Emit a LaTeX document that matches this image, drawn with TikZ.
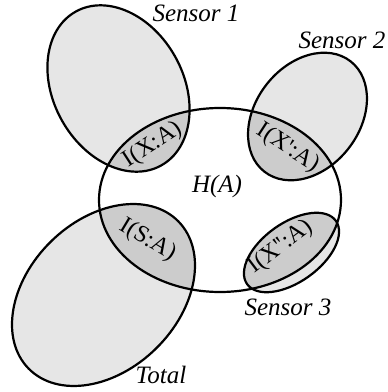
\documentclass[tikz,border=0pt]{standalone}
\usepackage{fontspec}
\setmainfont{Liberation Serif}
\definecolor{setfill}{HTML}{E6E6E6}
\definecolor{overlapfill}{HTML}{CCCCCC}
% The five sets: entropy H(A), three sensors and the total
\newcommand\hset[1]{\path[#1] (220,192) ellipse [x radius=121pt, y radius=92pt];}
\newcommand\sensorone[1]{\path[#1, rotate around={-61:(118.5,303.5)}] (118.5,303.5) ellipse [x radius=88pt, y radius=65pt];}
\newcommand\sensortwo[1]{\path[#1, rotate around={52:(307.5,275.5)}] (307.5,275.5) ellipse [x radius=70pt, y radius=52pt];}
\newcommand\sensorthree[1]{\path[#1, rotate around={35.5:(291.5,139.5)}] (291.5,139.5) ellipse [x radius=54.5pt, y radius=29.5pt];}
\newcommand\totalset[1]{\path[#1, rotate around={44.5:(103.5,97)}] (103.5,97) ellipse [x radius=105pt, y radius=75pt];}
\begin{document}
\begin{tikzpicture}[x=1pt,y=1pt,
  outline/.style={draw=black, line width=2.2pt},
  setlabel/.style={font=\fontsize{25}{28}\selectfont\itshape, inner sep=0pt, anchor=base},
  infolabel/.style={font=\fontsize{24}{28}\selectfont, inner sep=0pt}]
\useasboundingbox (0,0) rectangle (388,392);
% light fill of the sets
\sensorone{fill=setfill}
\sensortwo{fill=setfill}
\sensorthree{fill=setfill}
\totalset{fill=setfill}
\hset{fill=white}
% darker fill of the overlaps with H(A)
\begin{scope}
  \hset{clip}
  \sensorone{fill=overlapfill}
  \sensortwo{fill=overlapfill}
  \sensorthree{fill=overlapfill}
  \totalset{fill=overlapfill}
\end{scope}
% outlines
\sensorone{outline}
\sensortwo{outline}
\sensorthree{outline}
\totalset{outline}
\hset{outline}
% labels
\node[setlabel] (s1) at (196,370) {Sensor 1};
\node[setlabel] (s2) at (342,343) {Sensor 2};
\node[setlabel] (s3) at (288,77) {Sensor 3};
\node[setlabel] (tot) at (161,9) {Total};
\node[setlabel] (h) at (217,199) {H(A)};
\node[infolabel, rotate=33] (ix) at (153,247) {I(X:A)};
\node[infolabel, rotate=-33] (ix1) at (288,244) {I(X\textquotesingle:A)};
\node[infolabel, rotate=-31] (is) at (148,152) {I(S:A)};
\node[infolabel, rotate=37] (ix2) at (281,145) {I(X\textquotesingle\textquotesingle:A)};
\end{tikzpicture}
\end{document}
